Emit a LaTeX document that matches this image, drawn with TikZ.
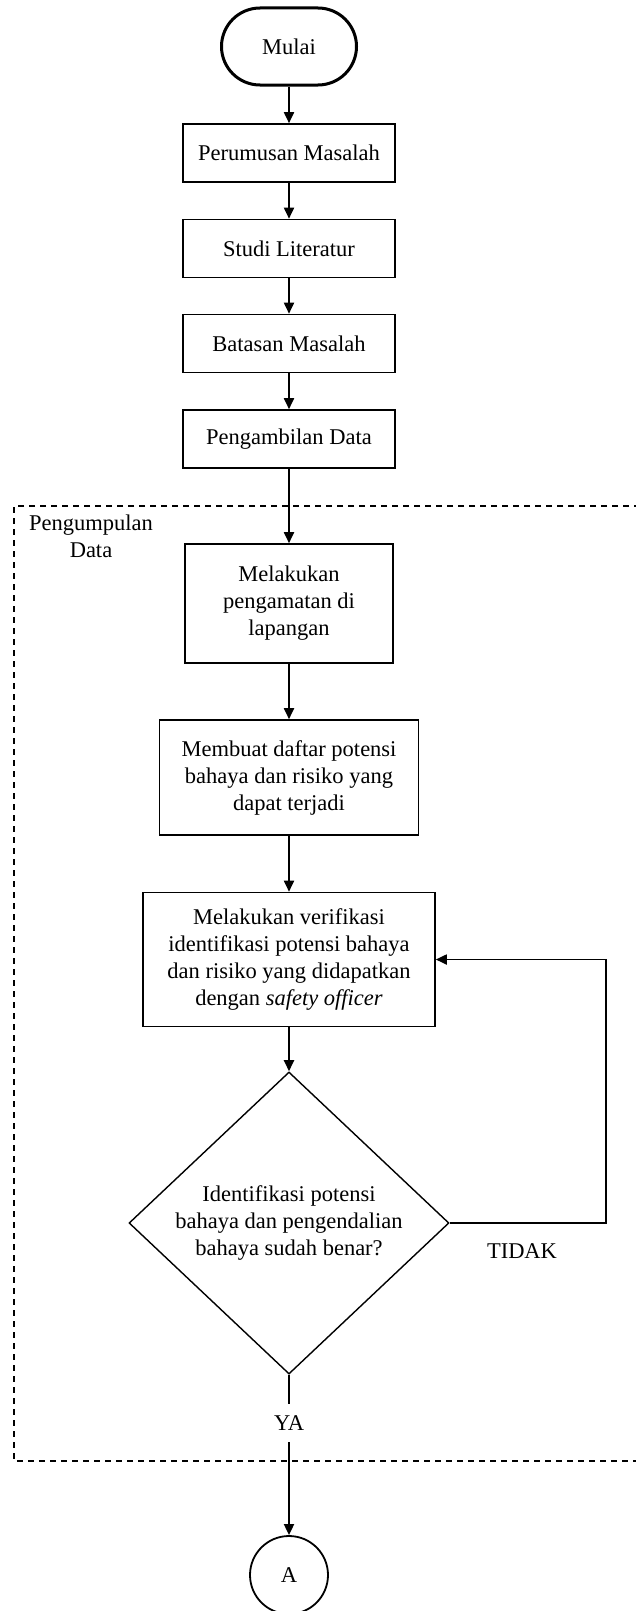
\documentclass[tikz,border=0pt]{standalone}
\usepackage{fontspec}
\setmainfont{Liberation Serif}
\usetikzlibrary{arrows.meta,shapes.geometric}

\begin{document}
\begin{tikzpicture}[x=1pt, y=-1pt,
    font=\fontsize{22.5}{27}\selectfont,
    kotak/.style={rectangle,draw,line width=1.6pt,align=center,inner sep=0pt},
    keputusan/.style={diamond,draw,line width=1.4pt,align=center,inner sep=0pt,minimum width=320pt,minimum height=286pt},
    panah/.style={-{Triangle[length=11pt,width=10pt]},line width=1.8pt},
    garis/.style={line width=1.8pt}]

    \newcommand*{\tengah}{289}%
    \newcommand*{\lebar}{212pt}%

    \useasboundingbox (0,0) rectangle (636,1611);

    % tahap awal ↓
    \node [draw, line width=3pt, rounded corners=38.5pt, minimum width=135pt, minimum height=77pt] (mulai) at (\tengah,46.5) {Mulai};

    \foreach \nama/\y/\teks in {rumusan/153/Perumusan Masalah, studi/248.5/Studi Literatur, batasan/343.5/Batasan Masalah, ambil/439/Pengambilan Data}
        \node [kotak, minimum width=\lebar, minimum height=58pt] (\nama) at (\tengah,\y) {\teks};

    % pengumpulan data ↓
    \draw [dash pattern=on 6pt off 5pt, line width=1.3pt] (640,506) -- (14,506) -- (14,1461) -- (640,1461);
    \node [align=center] (grup) at (91,536) {Pengumpulan\\Data};

    \node [kotak, minimum width=208pt, minimum height=119pt] (amati) at (\tengah,603.5) {Melakukan\\pengamatan di\\lapangan};
    \node [kotak, minimum width=259pt, minimum height=115pt] (daftar) at (\tengah,777.5) {Membuat daftar potensi\\bahaya dan risiko yang\\dapat terjadi};
    \node [kotak, minimum width=292pt, minimum height=134pt] (verifikasi) at (\tengah,959.5) {Melakukan verifikasi\\identifikasi potensi bahaya\\dan risiko yang didapatkan\\dengan \textit{safety officer}};
    \node [keputusan] (cek) at (\tengah,1223) {Identifikasi potensi\\bahaya dan pengendalian\\bahaya sudah benar?};

    \node [inner sep=11.5pt] (ya) at (\tengah,1423) {YA};
    \node (tidak) at (522,1251) {TIDAK};
    \coordinate (belok) at (606,1223);

    \node [circle, draw, line width=1.8pt, minimum size=78pt, inner sep=0pt] (A) at (\tengah,1575) {A};

    % panah ↓
    \foreach \a/\b in {mulai/rumusan, rumusan/studi, studi/batasan, batasan/ambil, ambil/amati, amati/daftar, daftar/verifikasi, verifikasi/cek}
        \draw [panah] (\a) -- (\b);

    \draw [garis] (cek) -- (ya);
    \draw [panah] (ya) -- (A);
    \draw [panah] (cek.east) -- (belok) |- (verifikasi.east);

\end{tikzpicture}
\end{document}
